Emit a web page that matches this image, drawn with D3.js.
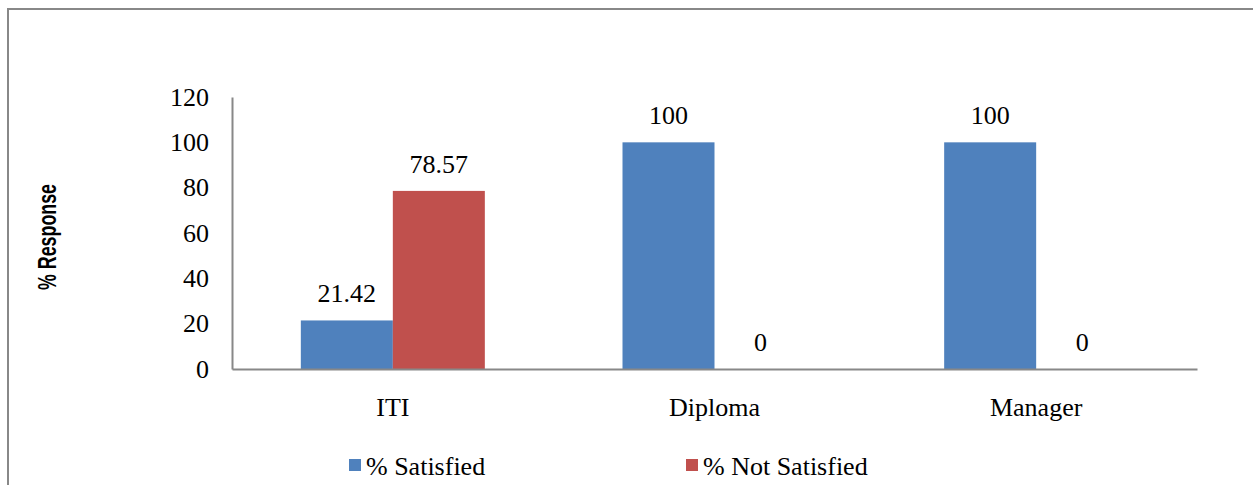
<!DOCTYPE html>
<html>
<head>
<meta charset="utf-8">
<script src="https://cdn.jsdelivr.net/npm/d3@7"></script>
<style>
  html, body { margin: 0; padding: 0; background: #fff; }
  svg { display: block; }
  text { font-family: "Liberation Serif", "Times New Roman", serif; fill: #000; }
  text.ytitle { font-family: "Liberation Sans Narrow", "Arial Narrow", "Liberation Sans", sans-serif; font-weight: bold; }
</style>
</head>
<body>
<svg id="chart" width="1253" height="485"></svg>
<script>
// Survey groups and response shares
const categories = ["ITI", "Diploma", "Manager"];
const seriesNames = ["% Satisfied", "% Not Satisfied"];
const satisfied = [21.42, 100, 100];
const notSatisfied = [78.57, 0, 0];
const yTicks = [0, 20, 40, 60, 80, 100, 120];
const yLabel = "% Response";

const colors = ["#4f81bd", "#c0504d"];
const seriesValues = [satisfied, notSatisfied];
const FS = 26;

const svg = d3.select("#chart");
const W = 1253, H = 485;

// Outer frame (top and left edges visible)
svg.append("path")
  .attr("d", `M8,${H} L8,9 L${W},9`)
  .attr("fill", "none")
  .attr("stroke", "#888")
  .attr("stroke-width", 2);

const plot = { left: 232, right: 1197, top: 97, bottom: 369 };

const x = d3.scaleBand()
  .domain(categories)
  .range([plot.left, plot.right])
  .paddingInner(0)
  .paddingOuter(0);

const barW = 92;
const xSub = d3.scaleBand()
  .domain(seriesNames)
  .range([x.bandwidth() / 2 - barW, x.bandwidth() / 2 + barW]);

const y = d3.scaleLinear()
  .domain([0, 120])
  .range([plot.bottom, plot.top]);

// Bars
const groups = svg.append("g")
  .selectAll("g")
  .data(categories)
  .join("g")
  .attr("transform", d => `translate(${x(d)},0)`);

const cells = (c, i) => seriesNames.map((s, k) => ({ s, k, v: seriesValues[k][i] }));

groups.selectAll("rect")
  .data(cells)
  .join("rect")
  .attr("x", d => xSub(d.s))
  .attr("width", xSub.bandwidth())
  .attr("y", d => y(d.v))
  .attr("height", d => y(0) - y(d.v))
  .attr("fill", d => colors[d.k]);

// Value labels
groups.selectAll("text.val")
  .data(cells)
  .join("text")
  .attr("class", "val")
  .attr("x", d => xSub(d.s) + xSub.bandwidth() / 2)
  .attr("y", d => y(d.v) - 18)
  .attr("text-anchor", "middle")
  .attr("font-size", FS)
  .text(d => String(d.v));

// Y axis
const yAxis = d3.axisLeft(y)
  .tickValues(yTicks)
  .tickSize(0)
  .tickPadding(23)
  .tickFormat(d3.format("d"));

const gy = svg.append("g")
  .attr("transform", `translate(${plot.left},0)`)
  .call(yAxis);
gy.select(".domain").attr("stroke", "#888").attr("stroke-width", 2);
gy.selectAll("text").attr("font-size", FS).attr("fill", "#000");

// X axis
const xAxis = d3.axisBottom(x).tickSize(0).tickPadding(29);
const gx = svg.append("g")
  .attr("transform", `translate(0,${plot.bottom})`)
  .call(xAxis);
gx.select(".domain").attr("stroke", "#888").attr("stroke-width", 2);
gx.selectAll("text").attr("font-size", FS).attr("fill", "#000");

// Y axis title
svg.append("text")
  .attr("class", "ytitle")
  .attr("transform", "translate(56,237) rotate(-90)")
  .attr("text-anchor", "middle")
  .attr("font-size", 25)
  .attr("textLength", 106)
  .attr("lengthAdjust", "spacingAndGlyphs")
  .text(yLabel);

// Legend
const legendX = [349, 686];
const legend = svg.append("g")
  .selectAll("g")
  .data(seriesNames)
  .join("g")
  .attr("transform", (d, i) => `translate(${legendX[i]},459)`);
legend.append("rect")
  .attr("width", 12)
  .attr("height", 12)
  .attr("fill", (d, i) => colors[i]);
legend.append("text")
  .attr("x", 17)
  .attr("y", 7)
  .attr("dy", "0.35em")
  .attr("font-size", FS)
  .text(d => d);
</script>
</body>
</html>
